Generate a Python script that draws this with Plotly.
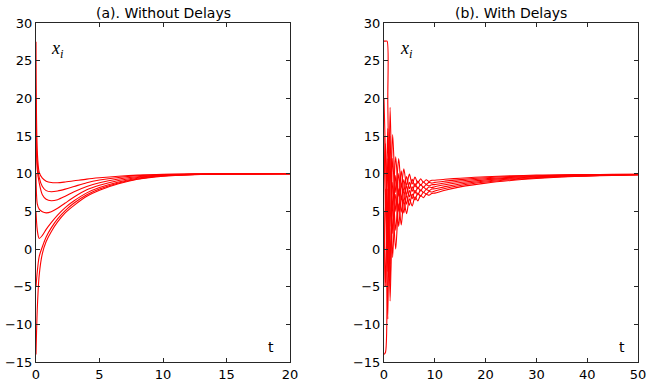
import plotly.graph_objects as go

# ---------------- (a) Without Delays ----------------
t_a = [0, 0.1, 0.25, 0.5, 0.8, 1.2, 1.7, 2.3, 3, 4, 5, 6.5, 8, 10, 12.5, 15, 20]
xa_1 = [27.5, 13.0, 10.2, 9.4, 9.0, 8.82, 8.8, 8.9, 9.05, 9.28, 9.45, 9.65, 9.8, 9.92, 9.97, 9.99, 10.0]
xa_2 = [20.0, 11.5, 9.5, 8.3, 7.75, 7.6, 7.7, 7.95, 8.3, 8.8, 9.15, 9.5, 9.72, 9.87, 9.95, 9.98, 10.0]
xa_3 = [15.0, 10.5, 8.8, 7.2, 6.6, 6.4, 6.55, 7.0, 7.6, 8.3, 8.8, 9.3, 9.6, 9.82, 9.93, 9.97, 10.0]
xa_4 = [10.0, 6.0, 5.3, 4.95, 4.8, 4.95, 5.4, 6.1, 6.9, 7.85, 8.45, 9.1, 9.5, 9.78, 9.91, 9.96, 10.0]
xa_5 = [5.0, 2.5, 1.4, 1.8, 2.6, 3.5, 4.5, 5.5, 6.4, 7.45, 8.15, 8.9, 9.4, 9.74, 9.9, 9.96, 10.0]
xa_6 = [-5.0, -3.0, -1.0, 0.3, 1.6, 2.8, 4.0, 5.1, 6.1, 7.2, 7.95, 8.75, 9.3, 9.7, 9.88, 9.95, 10.0]
xa_7 = [-14.0, -8.0, -3.5, -0.6, 1.0, 2.3, 3.6, 4.8, 5.8, 7.0, 7.8, 8.65, 9.25, 9.67, 9.87, 9.95, 10.0]

# ---------------- (b) With Delays ----------------
t_b = [0, 0.3, 0.6, 0.75, 1.2, 1.7, 2.3, 2.9, 3.4, 3.9, 4.45, 5.0, 5.55, 6.1, 6.65,
       7.2, 7.75, 8.3, 8.85, 9.4, 10, 12, 15, 20, 25, 30, 35, 40, 45, 50]
xb_1 = [27.6, 27.6, 27.6, 19.2, 3.0, 15.2, 7.5, 12.0, 8.2, 10.65, 8.45, 9.95, 8.63, 9.55, 8.75,
        9.31, 8.86, 9.19, 8.97, 9.13, 9.12, 9.25, 9.4, 9.6, 9.72, 9.8, 9.85, 9.88, 9.9, 9.92]
xb_2 = [20.0, 12.0, 2.0, -3.0, 18.8, 5.22, 12.25, 7.0, 10.37, 7.63, 9.63, 8.0, 9.24, 8.25, 9.01,
        8.45, 8.9, 8.59, 8.84, 8.74, 8.84, 9.01, 9.21, 9.46, 9.62, 9.73, 9.8, 9.85, 9.88, 9.9]
xb_3 = [15.0, 5.0, 12.0, 16.0, -2.0, 12.03, 5.0, 10.0, 6.53, 9.22, 7.2, 8.85, 7.65, 8.68, 7.96,
        8.58, 8.18, 8.55, 8.36, 8.54, 8.55, 8.77, 9.02, 9.32, 9.51, 9.65, 9.75, 9.81, 9.86, 9.89]
xb_4 = [10.0, 14.0, 4.0, 0.0, 15.0, 2.05, 9.75, 5.0, 8.7, 6.2, 8.38, 6.9, 8.27, 7.38, 8.22,
        7.72, 8.22, 7.95, 8.23, 8.15, 8.27, 8.53, 8.83, 9.18, 9.41, 9.58, 9.7, 9.78, 9.84, 9.88]
xb_5 = [5.0, -5.0, 8.0, 12.0, -5.0, 8.87, 2.5, 8.0, 4.87, 7.78, 5.95, 7.75, 6.68, 7.8, 7.16,
        7.85, 7.49, 7.9, 7.74, 7.96, 7.99, 8.28, 8.63, 9.03, 9.31, 9.5, 9.65, 9.75, 9.81, 9.86]
xb_6 = [-5.0, 8.0, -4.0, -9.3, 12.0, -1.12, 7.25, 3.0, 7.03, 4.77, 7.13, 5.8, 7.29, 6.51, 7.43,
        6.99, 7.53, 7.3, 7.62, 7.56, 7.7, 8.04, 8.44, 8.89, 9.2, 9.43, 9.6, 9.71, 9.79, 9.85]
xb_7 = [-14.0, -13.7, 0.0, 8.0, -6.9, 5.7, 0.0, 6.0, 3.2, 6.35, 4.7, 6.65, 5.7, 6.93, 6.37,
        7.12, 6.81, 7.26, 7.13, 7.37, 7.42, 7.8, 8.25, 8.75, 9.1, 9.35, 9.55, 9.68, 9.77, 9.83]

y_ticks = [-15, -10, -5, 0, 5, 10, 15, 20, 25, 30]
xa_ticks = [0, 5, 10, 15, 20]
xb_ticks = [0, 10, 20, 30, 40, 50]

RED = "#ff0000"
fig = go.Figure()
for ys in [xa_1, xa_2, xa_3, xa_4, xa_5, xa_6, xa_7]:
    fig.add_trace(go.Scatter(x=t_a, y=ys, mode="lines", xaxis="x", yaxis="y",
                             line=dict(color=RED, width=1.1, shape="spline", smoothing=0.8),
                             showlegend=False, hoverinfo="skip"))
for ys in [xb_1, xb_2, xb_3, xb_4, xb_5, xb_6, xb_7]:
    fig.add_trace(go.Scatter(x=t_b, y=ys, mode="lines", xaxis="x2", yaxis="y2",
                             line=dict(color=RED, width=1.1, shape="spline", smoothing=0.8),
                             showlegend=False, hoverinfo="skip"))

W, H = 654, 382
L, R, T, B = 36, 16, 23, 20
PW = W - L - R
tickfont = dict(family="DejaVu Sans, Arial, sans-serif", size=13, color="black")
common = dict(showline=True, linecolor="#262626", linewidth=1, mirror="ticks",
              ticks="inside", ticklen=4, tickcolor="#262626", showgrid=False,
              zeroline=False, tickfont=tickfont, automargin=False)

fig.update_layout(
    width=W, height=H,
    margin=dict(l=L, r=R, t=T, b=B, autoexpand=False),
    paper_bgcolor="white", plot_bgcolor="white",
    xaxis=dict(domain=[0, 254 / PW], range=[0, 20], tickvals=xa_ticks, anchor="y", **common),
    yaxis=dict(domain=[0, 1], range=[-15, 30], tickvals=y_ticks, anchor="x", **common),
    xaxis2=dict(domain=[348 / PW, 1], range=[0, 50], tickvals=xb_ticks, anchor="y2", **common),
    yaxis2=dict(domain=[0, 1], range=[-15, 30], tickvals=y_ticks, anchor="x2", **common),
)

ann_font = dict(family="DejaVu Sans, Arial, sans-serif", size=14, color="black")
math_font = dict(family="Liberation Serif, Times New Roman, serif", size=18, color="black")
fig.add_annotation(text="(a). Without Delays", x=0.5, y=1.03, xref="x domain", yref="y domain",
                   showarrow=False, font=ann_font, xanchor="center", yanchor="middle")
fig.add_annotation(text="(b). With Delays", x=0.5, y=1.03, xref="x2 domain", yref="y2 domain",
                   showarrow=False, font=ann_font, xanchor="center", yanchor="middle")
fig.add_annotation(text="<i>x</i><sub><i>i</i></sub>", x=1.7, y=26.5, xref="x", yref="y",
                   showarrow=False, font=math_font, xanchor="center", yanchor="middle")
fig.add_annotation(text="<i>x</i><sub><i>i</i></sub>", x=4.5, y=26.5, xref="x2", yref="y2",
                   showarrow=False, font=math_font, xanchor="center", yanchor="middle")
fig.add_annotation(text="t", x=18.5, y=-13.0, xref="x", yref="y",
                   showarrow=False, font=ann_font, xanchor="center", yanchor="middle")
fig.add_annotation(text="t", x=46.8, y=-13.0, xref="x2", yref="y2",
                   showarrow=False, font=ann_font, xanchor="center", yanchor="middle")

fig.write_html("out.html", config={"displayModeBar": False},
               post_script="document.body.style.margin='0';")
